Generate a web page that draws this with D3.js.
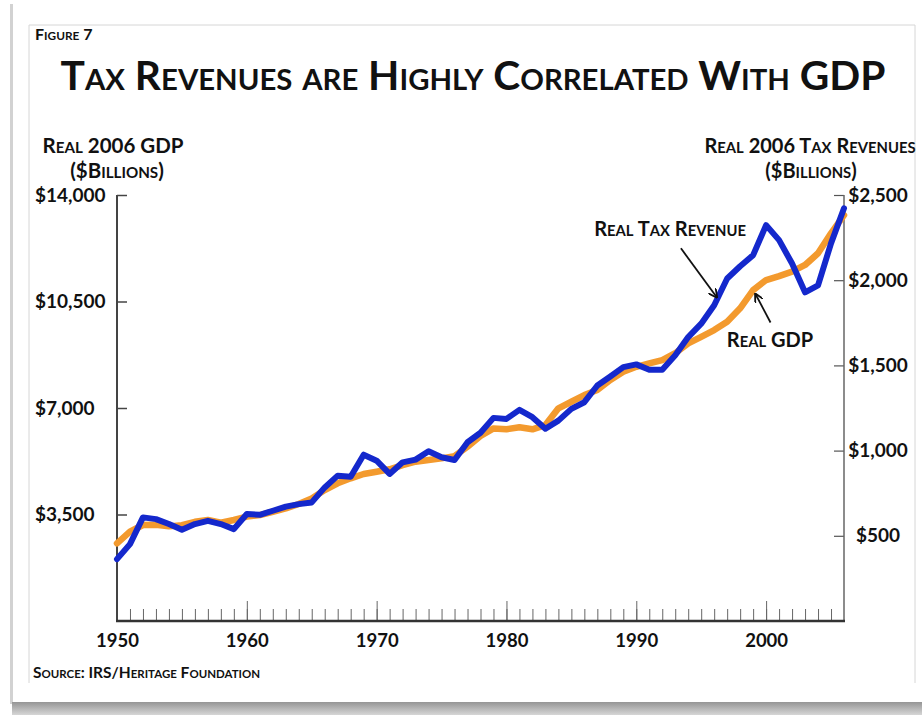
<!DOCTYPE html>
<html>
<head>
<meta charset="utf-8">
<script src="https://cdn.jsdelivr.net/npm/d3@7"></script>
<style>
  html, body { margin: 0; padding: 0; background: #fff; }
  svg { display: block; font-family: Lato, 'Open Sans', sans-serif; font-weight: 700; }
  text { white-space: pre; fill: #111; }
</style>
</head>
<body>
<div id="chart"></div>
<script>
// values
const years = d3.range(1950, 2007);
const gdp = [2553, 2935, 3155, 3160, 3110, 3150, 3260, 3320, 3230, 3320,
             3430, 3480, 3590, 3700, 3845, 4030, 4305, 4525, 4690, 4830,
             4905, 4985, 5125, 5235, 5290, 5345, 5420, 5730, 6080, 6330,
             6300, 6365, 6300, 6440, 6990, 7205, 7425, 7590, 7920, 8190,
             8355, 8470, 8575, 8800, 9125, 9340, 9560, 9835, 10275, 10875,
             11205, 11335, 11480, 11700, 12085, 12740, 13340];
const tax = [363, 451, 608, 598, 569, 535, 569, 588, 569, 539,
             628, 623, 647, 671, 686, 696, 784, 853, 847, 976,
             941, 863, 931, 947, 996, 961, 945, 1049, 1105, 1192,
             1186, 1239, 1196, 1128, 1176, 1245, 1284, 1382, 1435, 1490,
             1506, 1475, 1475, 1559, 1666, 1745, 1853, 2010, 2082, 2147,
             2323, 2235, 2098, 1929, 1970, 2216, 2422];
const gdpTicks = [3500, 7000, 10500, 14000];
const taxTicks = [500, 1000, 1500, 2000, 2500];
const decadeTicks = [1950, 1960, 1970, 1980, 1990, 2000];
const minorTicks = d3.range(1951, 2006);

const W = 922, H = 715;
const svg = d3.select('#chart').append('svg')
  .attr('width', W).attr('height', H);

// small caps by hand: lowercase letters become smaller capitals
function smallCaps(sel, str, size, ratio = 0.74) {
  str.match(/[a-z]+|[^a-z]+/g).forEach(run => {
    const low = /[a-z]/.test(run);
    sel.append('tspan').attr('font-size', low ? size * ratio : size).text(run.toUpperCase());
  });
  return sel;
}

// card frame + shadow
const defs = svg.append('defs');
const bg = defs.append('linearGradient').attr('id', 'shadowB').attr('x1', 0).attr('y1', 0).attr('x2', 0).attr('y2', 1);
bg.append('stop').attr('offset', 0).attr('stop-color', '#959595');
bg.append('stop').attr('offset', 1).attr('stop-color', '#d6d6d6');
svg.append('rect').attr('x', 10).attr('y', 4).attr('width', 3).attr('height', 700).attr('fill', '#d2d2d2');
svg.append('rect').attr('x', 12).attr('y', 702).attr('width', W - 12).attr('height', 13).attr('fill', 'url(#shadowB)');
svg.append('path').attr('d', 'M29,683V25H915V683')
  .attr('fill', 'none').attr('stroke', '#d6d6d6').attr('stroke-width', 1);

const x = d3.scaleLinear([1950, 2006], [117, 844]);
const yL = d3.scaleLinear([0, 14000], [621, 195]);
const yR = d3.scaleLinear([0, 2500], [621, 195]);
const money = d3.format('$,');

// titles
smallCaps(svg.append('text').attr('x', 35).attr('y', 40), 'Figure 7', 16);
smallCaps(svg.append('text').attr('x', 473).attr('y', 90).attr('text-anchor', 'middle'),
  'Tax Revenues are Highly Correlated With GDP', 40.7, 0.72);
smallCaps(svg.append('text').attr('x', 113).attr('y', 153).attr('text-anchor', 'middle'), 'Real 2006 GDP', 20.5);
smallCaps(svg.append('text').attr('x', 117).attr('y', 178).attr('text-anchor', 'middle'), '($Billions)', 20.5);
smallCaps(svg.append('text').attr('x', 810).attr('y', 153).attr('text-anchor', 'middle'), 'Real 2006 Tax Revenues', 20);
smallCaps(svg.append('text').attr('x', 811).attr('y', 178).attr('text-anchor', 'middle'), '($Billions)', 20);
smallCaps(svg.append('text').attr('x', 33).attr('y', 678), 'Source: IRS/Heritage Foundation', 15.5);

// axes
function styleAxis(g) {
  g.attr('font-family', null).attr('font-size', null);
  g.select('.domain').remove();
}
const gL = svg.append('g').attr('transform', `translate(${x(1950)},0)`)
  .call(d3.axisRight(yL).tickValues(gdpTicks).tickSize(10).tickFormat(money)).call(styleAxis);
gL.selectAll('.tick line').attr('stroke', '#444').attr('stroke-width', 1.5);
gL.selectAll('.tick text').attr('x', 35 - x(1950)).attr('text-anchor', 'start')
  .attr('font-size', 19).attr('fill', '#111');

const gR = svg.append('g').attr('transform', `translate(${x(2006)},0)`)
  .call(d3.axisLeft(yR).tickValues(taxTicks).tickSize(10).tickFormat(money)).call(styleAxis);
gR.selectAll('.tick line').attr('stroke', '#555').attr('stroke-width', 1.2);
gR.selectAll('.tick text').attr('x', 878 - x(2006)).attr('text-anchor', 'middle')
  .attr('font-size', 19).attr('fill', '#111');

const gMinor = svg.append('g').attr('transform', `translate(0,${yL(0)})`)
  .call(d3.axisBottom(x).tickValues(minorTicks).tickSize(-12).tickFormat('')).call(styleAxis);
gMinor.selectAll('.tick line').attr('stroke', '#666').attr('stroke-width', 1);

const gMajor = svg.append('g').attr('transform', `translate(0,${yL(0)})`)
  .call(d3.axisBottom(x).tickValues(decadeTicks).tickSize(-20).tickFormat(d3.format('d'))).call(styleAxis);
gMajor.selectAll('.tick line').attr('stroke', '#666').attr('stroke-width', 1);
gMajor.selectAll('.tick text').attr('y', 26).attr('dy', null)
  .attr('font-size', 18.5).attr('fill', '#111');

svg.append('line').attr('x1', x(1950)).attr('x2', x(1950)).attr('y1', yL(14000)).attr('y2', yL(0))
  .attr('stroke', '#444').attr('stroke-width', 2);
svg.append('line').attr('x1', x(2006)).attr('x2', x(2006)).attr('y1', yR(2500)).attr('y2', yR(0))
  .attr('stroke', '#666').attr('stroke-width', 1.5);
svg.append('line').attr('x1', x(1950) - 1).attr('x2', x(2006) + 1).attr('y1', yL(0)).attr('y2', yL(0))
  .attr('stroke', '#333').attr('stroke-width', 2.5);

// series
const gdpLine = d3.line().x((d, i) => x(years[i])).y(d => yL(d));
const taxLine = d3.line().x((d, i) => x(years[i])).y(d => yR(d));
svg.append('path').datum(gdp).attr('d', gdpLine)
  .attr('fill', 'none').attr('stroke', '#f39a2e').attr('stroke-width', 6.5)
  .attr('stroke-linejoin', 'round').attr('stroke-linecap', 'round');
svg.append('path').datum(tax).attr('d', taxLine)
  .attr('fill', 'none').attr('stroke', '#1428cc').attr('stroke-width', 6)
  .attr('stroke-linejoin', 'round').attr('stroke-linecap', 'round');

// annotations
defs.append('marker').attr('id', 'arr').attr('viewBox', '0 0 10 10')
  .attr('refX', 9).attr('refY', 5).attr('markerWidth', 5).attr('markerHeight', 5)
  .attr('orient', 'auto').attr('markerUnits', 'strokeWidth')
  .append('path').attr('d', 'M0,0L10,5L0,10').attr('fill', 'none').attr('stroke', '#111').attr('stroke-width', 2);

svg.append('line')
  .attr('x1', x(1993.44)).attr('y1', yR(2187)).attr('x2', x(1996.2)).attr('y2', yR(1900))
  .attr('stroke', '#111').attr('stroke-width', 1.8).attr('marker-end', 'url(#arr)');
smallCaps(svg.append('text').attr('x', x(1992.6)).attr('y', yR(2259)).attr('text-anchor', 'middle'),
  'Real Tax Revenue', 20);

svg.append('line')
  .attr('x1', x(2000.34)).attr('y1', yL(9810)).attr('x2', x(1999.18)).attr('y2', yL(10746))
  .attr('stroke', '#111').attr('stroke-width', 1.8).attr('marker-end', 'url(#arr)');
smallCaps(svg.append('text').attr('x', x(2000.3)).attr('y', yL(9015)).attr('text-anchor', 'middle'),
  'Real GDP', 20);
</script>
</body>
</html>
